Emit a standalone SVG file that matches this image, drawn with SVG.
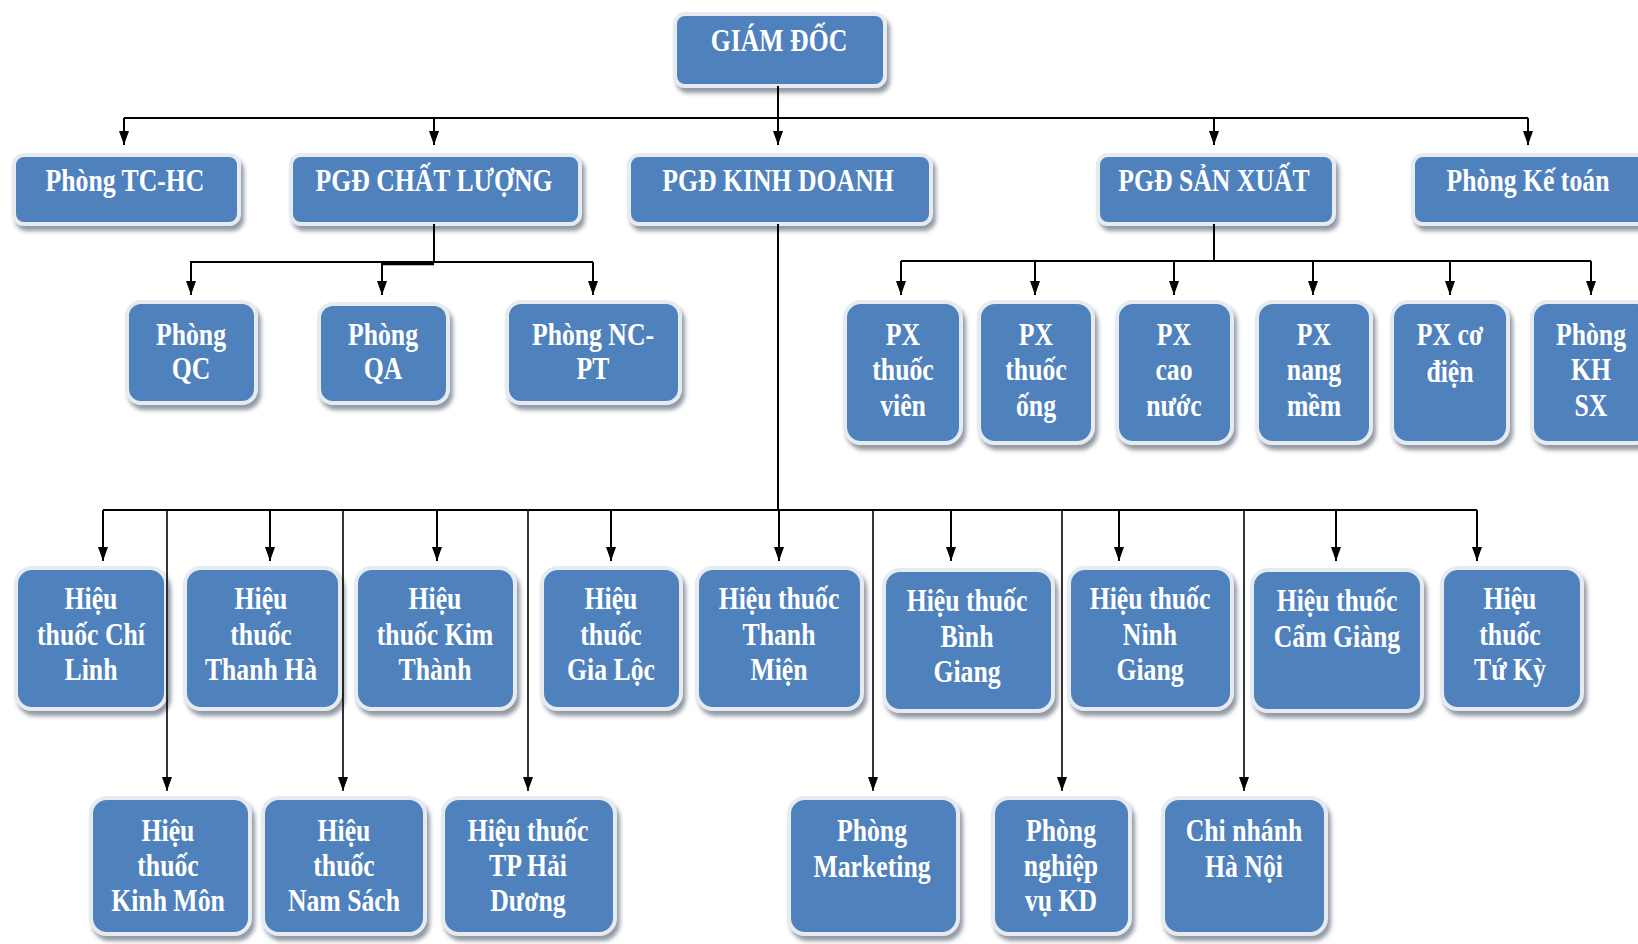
<svg xmlns="http://www.w3.org/2000/svg" width="1638" height="944" viewBox="0 0 1638 944">
<style>
.box{fill:#4F81BD;stroke:#e6ebf2;stroke-width:4;filter:url(#sh)}
.t{font-family:"Liberation Serif","Times New Roman",serif;font-weight:bold;font-size:31px;fill:#ffffff;text-anchor:middle}
.c{fill:none;stroke:#000;stroke-width:2}
.c2{fill:none;stroke:#000;stroke-width:1.6}
</style>
<defs>
<filter id="sh" x="-15%" y="-15%" width="135%" height="145%">
<feDropShadow dx="3" dy="5" stdDeviation="2" flood-color="#6d7785" flood-opacity="0.75"/>
</filter>
<marker id="ah" viewBox="0 0 14 10" refX="14" refY="5" markerWidth="14" markerHeight="10" markerUnits="userSpaceOnUse" orient="auto">
<path d="M0,0 L14,5 L0,10 z" fill="#000"/>
</marker>
</defs>

<g id="n-giamdoc"><rect class="box" x="675" y="14" width="210" height="72" rx="10"/><text class="t" transform="translate(779,51) scale(.83,1)">GIÁM ĐỐC</text></g>

<g id="n-tchc"><rect class="box" x="14" y="155" width="225" height="69" rx="10"/><text class="t" transform="translate(125,191) scale(.83,1)">Phòng TC-HC</text></g>
<g id="n-pgdcl"><rect class="box" x="291" y="155" width="289" height="69" rx="10"/><text class="t" transform="translate(434,191) scale(.83,1)">PGĐ CHẤT LƯỢNG</text></g>
<g id="n-pgdkd"><rect class="box" x="629" y="155" width="302" height="69" rx="10"/><text class="t" transform="translate(778,191) scale(.83,1)">PGĐ KINH DOANH</text></g>
<g id="n-pgdsx"><rect class="box" x="1098" y="155" width="236" height="69" rx="10"/><text class="t" transform="translate(1214,191) scale(.83,1)">PGĐ SẢN XUẤT</text></g>
<g id="n-ketoan"><rect class="box" x="1413" y="155" width="240" height="69" rx="10"/><text class="t" transform="translate(1528,191) scale(.83,1)">Phòng Kế toán</text></g>

<g id="n-qc"><rect class="box" x="127" y="302" width="129" height="101" rx="14"/><text class="t" transform="translate(191,345) scale(.83,1)"><tspan x="0" y="0">Phòng</tspan><tspan x="0" y="34">QC</tspan></text></g>
<g id="n-qa"><rect class="box" x="319" y="304" width="129" height="99" rx="14"/><text class="t" transform="translate(383,345) scale(.83,1)"><tspan x="0" y="0">Phòng</tspan><tspan x="0" y="34">QA</tspan></text></g>
<g id="n-ncpt"><rect class="box" x="507" y="302" width="173" height="101" rx="14"/><text class="t" transform="translate(593,345) scale(.83,1)"><tspan x="0" y="0">Phòng NC-</tspan><tspan x="0" y="34">PT</tspan></text></g>

<g id="n-pxvien"><rect class="box" x="845" y="302" width="116" height="141" rx="16"/><text class="t" transform="translate(903,345) scale(.83,1)"><tspan x="0" y="0">PX</tspan><tspan x="0" y="35">thuốc</tspan><tspan x="0" y="71">viên</tspan></text></g>
<g id="n-pxong"><rect class="box" x="979" y="302" width="114" height="141" rx="16"/><text class="t" transform="translate(1036,345) scale(.83,1)"><tspan x="0" y="0">PX</tspan><tspan x="0" y="35">thuốc</tspan><tspan x="0" y="71">ống</tspan></text></g>
<g id="n-pxcao"><rect class="box" x="1117" y="302" width="115" height="141" rx="16"/><text class="t" transform="translate(1174,345) scale(.83,1)"><tspan x="0" y="0">PX</tspan><tspan x="0" y="35">cao</tspan><tspan x="0" y="71">nước</tspan></text></g>
<g id="n-pxnang"><rect class="box" x="1257" y="302" width="114" height="141" rx="16"/><text class="t" transform="translate(1314,345) scale(.83,1)"><tspan x="0" y="0">PX</tspan><tspan x="0" y="35">nang</tspan><tspan x="0" y="71">mềm</tspan></text></g>
<g id="n-pxcodien"><rect class="box" x="1392" y="302" width="116" height="141" rx="16"/><text class="t" transform="translate(1450,345) scale(.83,1)"><tspan x="0" y="0">PX cơ</tspan><tspan x="0" y="37">điện</tspan></text></g>
<g id="n-khsx"><rect class="box" x="1532" y="302" width="120" height="141" rx="16"/><text class="t" transform="translate(1591,345) scale(.83,1)"><tspan x="0" y="0">Phòng</tspan><tspan x="0" y="35">KH</tspan><tspan x="0" y="71">SX</tspan></text></g>

<g id="n-chilinh"><rect class="box" x="16" y="568" width="150" height="141" rx="16"/><text class="t" transform="translate(91,609) scale(.83,1)"><tspan x="0" y="0">Hiệu</tspan><tspan x="0" y="36">thuốc Chí</tspan><tspan x="0" y="71">Linh</tspan></text></g>
<g id="n-thanhha"><rect class="box" x="185" y="568" width="155" height="141" rx="16"/><text class="t" transform="translate(261,609) scale(.83,1)"><tspan x="0" y="0">Hiệu</tspan><tspan x="0" y="36">thuốc</tspan><tspan x="0" y="71">Thanh Hà</tspan></text></g>
<g id="n-kimthanh"><rect class="box" x="356" y="568" width="159" height="141" rx="16"/><text class="t" transform="translate(435,609) scale(.83,1)"><tspan x="0" y="0">Hiệu</tspan><tspan x="0" y="36">thuốc Kim</tspan><tspan x="0" y="71">Thành</tspan></text></g>
<g id="n-gialoc"><rect class="box" x="542" y="568" width="139" height="141" rx="16"/><text class="t" transform="translate(611,609) scale(.83,1)"><tspan x="0" y="0">Hiệu</tspan><tspan x="0" y="36">thuốc</tspan><tspan x="0" y="71">Gia Lộc</tspan></text></g>
<g id="n-thanhmien"><rect class="box" x="697" y="568" width="165" height="141" rx="16"/><text class="t" transform="translate(779,609) scale(.83,1)"><tspan x="0" y="0">Hiệu thuốc</tspan><tspan x="0" y="36">Thanh</tspan><tspan x="0" y="71">Miện</tspan></text></g>
<g id="n-binhgiang"><rect class="box" x="884" y="570" width="169" height="141" rx="16"/><text class="t" transform="translate(967,611) scale(.83,1)"><tspan x="0" y="0">Hiệu thuốc</tspan><tspan x="0" y="36">Bình</tspan><tspan x="0" y="71">Giang</tspan></text></g>
<g id="n-ninhgiang"><rect class="box" x="1069" y="568" width="163" height="141" rx="16"/><text class="t" transform="translate(1150,609) scale(.83,1)"><tspan x="0" y="0">Hiệu thuốc</tspan><tspan x="0" y="36">Ninh</tspan><tspan x="0" y="71">Giang</tspan></text></g>
<g id="n-camgiang"><rect class="box" x="1252" y="570" width="170" height="141" rx="16"/><text class="t" transform="translate(1337,611) scale(.83,1)"><tspan x="0" y="0">Hiệu thuốc</tspan><tspan x="0" y="36">Cẩm Giàng</tspan></text></g>
<g id="n-tuky"><rect class="box" x="1442" y="568" width="140" height="141" rx="16"/><text class="t" transform="translate(1510,609) scale(.83,1)"><tspan x="0" y="0">Hiệu</tspan><tspan x="0" y="36">thuốc</tspan><tspan x="0" y="71">Tứ Kỳ</tspan></text></g>

<g id="n-kinhmon"><rect class="box" x="91" y="798" width="159" height="136" rx="16"/><text class="t" transform="translate(168,841) scale(.83,1)"><tspan x="0" y="0">Hiệu</tspan><tspan x="0" y="35">thuốc</tspan><tspan x="0" y="70">Kinh Môn</tspan></text></g>
<g id="n-namsach"><rect class="box" x="263" y="798" width="162" height="136" rx="16"/><text class="t" transform="translate(344,841) scale(.83,1)"><tspan x="0" y="0">Hiệu</tspan><tspan x="0" y="35">thuốc</tspan><tspan x="0" y="70">Nam Sách</tspan></text></g>
<g id="n-tphd"><rect class="box" x="443" y="798" width="172" height="136" rx="16"/><text class="t" transform="translate(528,841) scale(.83,1)"><tspan x="0" y="0">Hiệu thuốc</tspan><tspan x="0" y="35">TP Hải</tspan><tspan x="0" y="70">Dương</tspan></text></g>
<g id="n-marketing"><rect class="box" x="789" y="798" width="169" height="136" rx="16"/><text class="t" transform="translate(872,841) scale(.83,1)"><tspan x="0" y="0">Phòng</tspan><tspan x="0" y="36">Marketing</tspan></text></g>
<g id="n-nvkd"><rect class="box" x="993" y="798" width="137" height="136" rx="16"/><text class="t" transform="translate(1061,841) scale(.83,1)"><tspan x="0" y="0">Phòng</tspan><tspan x="0" y="35">nghiệp</tspan><tspan x="0" y="70">vụ KD</tspan></text></g>
<g id="n-hanoi"><rect class="box" x="1163" y="798" width="163" height="136" rx="16"/><text class="t" transform="translate(1244,841) scale(.83,1)"><tspan x="0" y="0">Chi nhánh</tspan><tspan x="0" y="36">Hà Nội</tspan></text></g>

<g id="connectors">
<path class="c" d="M778,86 V118 M124,118 H1528"/>
<path class="c" d="M124,118 V145" marker-end="url(#ah)"/>
<path class="c" d="M434,118 V145" marker-end="url(#ah)"/>
<path class="c" d="M778,118 V145" marker-end="url(#ah)"/>
<path class="c" d="M1214,118 V145" marker-end="url(#ah)"/>
<path class="c" d="M1528,118 V145" marker-end="url(#ah)"/>

<path class="c" d="M434,224 V262 M190,262 H593"/>
<path fill="none" stroke="#000" stroke-width="3.5" d="M382,263.5 H434"/>
<path class="c" d="M191,262 V295" marker-end="url(#ah)"/>
<path class="c" d="M382,262 V295" marker-end="url(#ah)"/>
<path class="c" d="M593,262 V295" marker-end="url(#ah)"/>

<path class="c" d="M1214,224 V261 M901,261 H1591"/>
<path class="c" d="M901,261 V295" marker-end="url(#ah)"/>
<path class="c" d="M1035,261 V295" marker-end="url(#ah)"/>
<path class="c" d="M1174,261 V295" marker-end="url(#ah)"/>
<path class="c" d="M1313,261 V295" marker-end="url(#ah)"/>
<path class="c" d="M1450,261 V295" marker-end="url(#ah)"/>
<path class="c" d="M1591,261 V295" marker-end="url(#ah)"/>

<path class="c" d="M778,224 V510 M103,510 H1477"/>
<path class="c" d="M103,510 V561" marker-end="url(#ah)"/>
<path class="c" d="M270,510 V561" marker-end="url(#ah)"/>
<path class="c" d="M437,510 V561" marker-end="url(#ah)"/>
<path class="c" d="M611,510 V561" marker-end="url(#ah)"/>
<path class="c" d="M779,510 V561" marker-end="url(#ah)"/>
<path class="c" d="M951,510 V561" marker-end="url(#ah)"/>
<path class="c" d="M1119,510 V561" marker-end="url(#ah)"/>
<path class="c" d="M1336,510 V561" marker-end="url(#ah)"/>
<path class="c" d="M1477,510 V561" marker-end="url(#ah)"/>

<path class="c2" d="M167,510 V791" marker-end="url(#ah)"/>
<path class="c2" d="M343,510 V791" marker-end="url(#ah)"/>
<path class="c2" d="M528,510 V791" marker-end="url(#ah)"/>
<path class="c2" d="M873,510 V791" marker-end="url(#ah)"/>
<path class="c2" d="M1062,510 V791" marker-end="url(#ah)"/>
<path class="c2" d="M1244,510 V791" marker-end="url(#ah)"/>
</g>
</svg>
